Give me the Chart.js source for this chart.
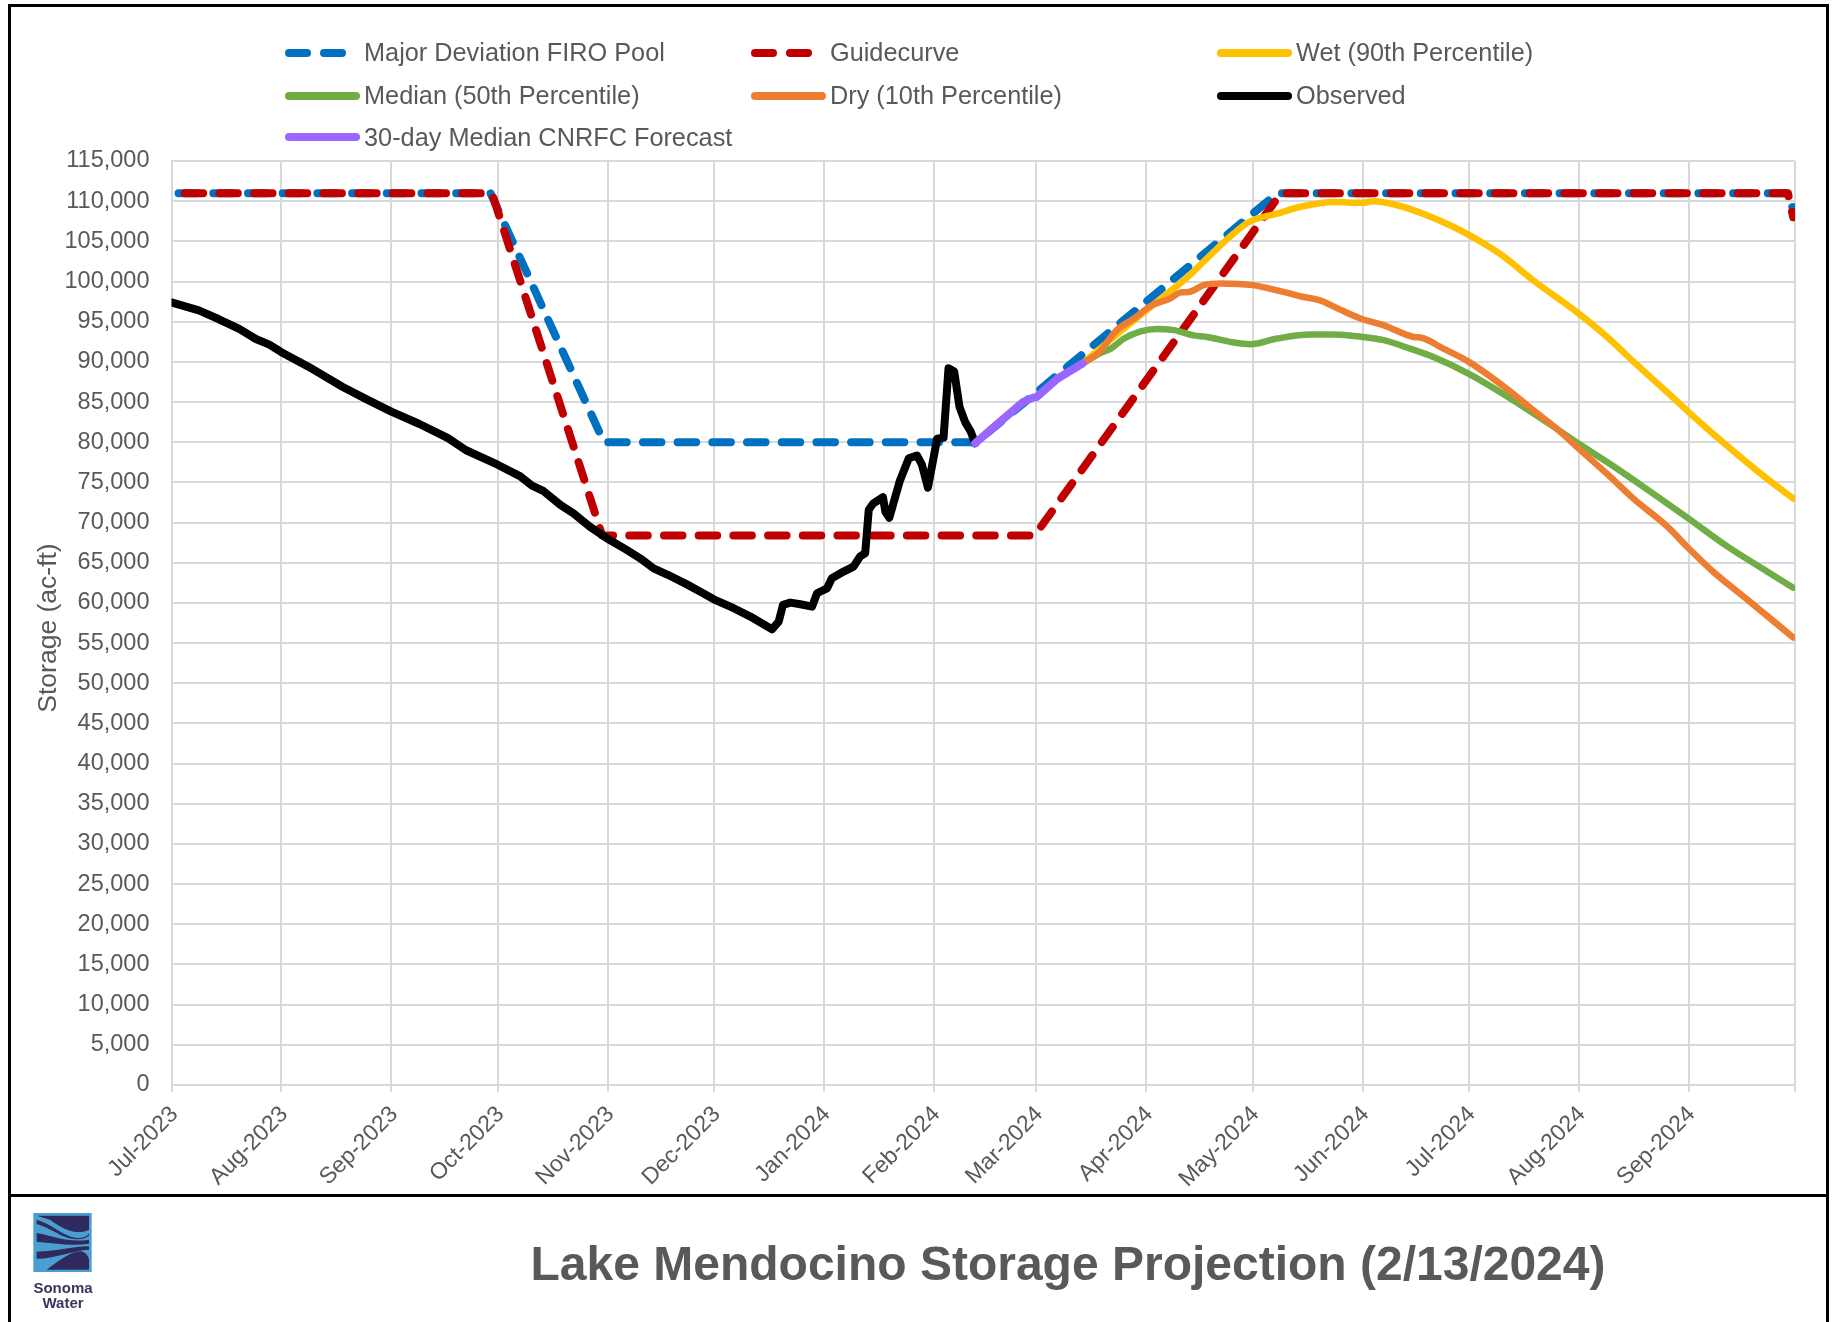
<!DOCTYPE html>
<html lang="en">
<head>
    <meta charset="UTF-8">
    <title>Lake Mendocino Storage Projection</title>
    <script src="https://cdn.jsdelivr.net/npm/chart.js"></script>
    <style>
        * {
            margin: 0;
            padding: 0;
            box-sizing: border-box;
        }

        html, body {
            width: 1835px;
            height: 1322px;
            overflow: hidden;
            background: #fff;
            font-family: "Liberation Sans", Arial, sans-serif;
        }

        .frame {
            position: absolute;
            left: 8px;
            top: 4px;
            width: 1821px;
            height: 1330px;
            border: 3px solid #000;
        }

        .divider {
            position: absolute;
            left: 8px;
            top: 1194px;
            width: 1821px;
            height: 3px;
            background: #000;
        }

        #chartWrap {
            position: absolute;
            left: 0;
            top: 0;
            width: 1835px;
            height: 1195px;
        }

        .y-title {
            position: absolute;
            left: 47px;
            top: 628px;
            transform: translate(-50%, -50%) rotate(-90deg);
            font-size: 26.5px;
            color: #595959;
            white-space: nowrap;
        }

        .legend-item {
            position: absolute;
            display: flex;
            align-items: center;
            height: 30px;
            font-size: 25.3px;
            color: #595959;
            white-space: nowrap;
        }

        .swatch {
            position: relative;
            width: 75px;
            height: 8px;
            margin-right: 4px;
        }

        .swatch span {
            position: absolute;
            top: 0;
            height: 100%;
            border-radius: 4px;
        }

        .title {
            position: absolute;
            left: 0;
            width: 2136px;
            top: 1236px;
            text-align: center;
            font-size: 48px;
            line-height: 56px;
            font-weight: bold;
            color: #595959;
        }

        .logo {
            position: absolute;
            left: 33px;
            top: 1213px;
            width: 59px;
            height: 59px;
        }

        .logo-text {
            position: absolute;
            left: 23px;
            width: 80px;
            top: 1280px;
            text-align: center;
            font-size: 15px;
            line-height: 15px;
            font-weight: bold;
            color: #3a3560;
        }
    </style>
</head>
<body>
    <div id="chartWrap"><canvas id="storageChart"></canvas></div>
    <div class="frame"></div>
    <div class="divider"></div>
    <div class="y-title">Storage (ac-ft)</div>
    <div id="legend"></div>

    <svg class="logo" viewBox="0 0 175 177">
        <rect width="175" height="177" fill="#4a9fd0"/>
        <g fill="#2f2a5e">
            <path d="M10 8H167V50C140 65 100 58 50 20Z"/>
            <path d="M10 20C50 30 90 70 130 75C150 75 160 70 167 62V68C150 82 120 82 90 70C60 55 35 40 10 33Z"/>
            <path d="M10 60C60 70 110 90 167 80V92C110 100 60 90 10 86Z"/>
            <path d="M10 116C60 116 120 100 167 100V110C120 112 60 138 10 137Z"/>
            <path d="M40 170C80 140 115 115 140 115C155 115 167 130 167 142V170Z"/>
        </g>
    </svg>
    <div class="logo-text">Sonoma<br>Water</div>
    <div class="title">Lake Mendocino Storage Projection (2/13/2024)</div>

    <script>
        // month ticks, counted in days from 1 Jul 2023
        const monthDays = [0, 31, 62, 92, 123, 153, 184, 215, 244, 275, 305, 336, 366, 397, 428, 458];
        const monthLabels = ['Jul-2023', 'Aug-2023', 'Sep-2023', 'Oct-2023', 'Nov-2023', 'Dec-2023', 'Jan-2024',
            'Feb-2024', 'Mar-2024', 'Apr-2024', 'May-2024', 'Jun-2024', 'Jul-2024', 'Aug-2024', 'Sep-2024', ''];

        const firoDays = [2, 90, 122, 227, 312, 456, 457.5];
        const firoValues = [111000, 111000, 80000, 80000, 111000, 111000, 108900];

        const guideDays = [3.7, 90.4, 121.5, 243.5, 313, 456, 457.5];
        const guideValues = [111000, 111000, 68400, 68400, 111000, 111000, 108000];

        const wetDays = [257, 262.6, 268, 275, 280.9, 286.5, 294, 299.7, 303.9, 311.9, 318.5, 327.9, 336, 339, 346.6,
            353, 360.7, 366, 374.9, 384.3, 397, 405, 412.5, 422, 428, 437, 450, 457.5];
        const wetValues = [89800, 91900, 93900, 96400, 98500, 100500, 103700, 106000, 107400, 108450, 109300, 109900, 109800, 110000, 109400,
            108450, 107000, 105800, 103400, 100100, 96000, 93100, 90000, 86200, 83750, 80250, 75500, 73000];

        const medianDays = [257, 262, 265, 268.7, 273.4, 278, 282.8, 288.4, 292.2, 299.7, 304.4, 311.9, 321.3, 327.9, 336,
            342, 349.4, 356, 366, 377.7, 391, 397, 407, 418, 428, 439, 450, 457.5];
        const medianValues = [89800, 91100, 91650, 92900, 93800, 94100, 93950, 93300, 93100, 92400, 92200, 92900, 93400, 93400, 93100,
            92700, 91650, 90600, 88500, 85450, 81600, 79800, 76950, 73600, 70500, 67000, 63950, 61900];

        const dryDays = [257, 261.7, 264, 266.8, 271.5, 276.2, 281.8, 284.7, 287, 291.2, 296, 305, 311.9, 319, 324, 329.7,
            335.4, 342, 350.4, 352.7, 358.8, 366, 376.7, 384.3, 391, 397, 405, 412.5, 422, 428, 435, 444.6, 457.5];
        const dryValues = [89800, 91200, 92500, 94000, 95400, 96950, 97900, 98650, 98700, 99550, 99750, 99550, 98900, 98100, 97650, 96500,
            95400, 94550, 93100, 93000, 91650, 90000, 86650, 83950, 81600, 79200, 76050, 72950, 69500, 66800, 63850, 60400, 55700];

        const observedDays = [0, 7.7, 13.4, 19.1, 23.8, 27.6, 31, 39.8, 48.2, 54.8, 62, 69.8, 78, 83.1, 92, 98.4, 101.7, 105, 109.7,
            113.4, 118, 122.8, 128.4, 132.2, 136, 140, 145, 149.2, 153, 158.6, 163.3, 169.4, 171.3, 172.5, 174.6, 177.4, 180.7,
            182.1, 184.9, 186.3, 189.6, 192.4, 194.3, 195.7, 196.7, 198, 200.7, 201.4, 202.5, 205.4, 208, 210.3, 211.7, 213.4,
            216, 217.8, 219.2, 220.8, 222.3, 223.9, 225.5, 226.7];
        const observedValues = [97400, 96400, 95300, 94100, 92850, 92150, 91200, 89100, 86900, 85400, 83800, 82300, 80500, 79000, 77200, 75750, 74600, 73900, 72200,
            71150, 69500, 68050, 66600, 65550, 64300, 63500, 62400, 61400, 60450, 59340, 58300, 56720, 57680, 59750, 60040, 59830, 59540,
            61200, 61800, 63070, 63900, 64520, 65800, 66200, 71600, 72400, 73150, 71350, 70600, 75100, 78000, 78350, 77200, 74350,
            80450, 80550, 89200, 88800, 84400, 82500, 81300, 79870];

        const forecastDays = [226.7, 233.7, 240.3, 243.1, 244, 249.9, 257];
        const forecastValues = [79870, 82530, 85020, 85560, 85600, 87900, 89800];

        const toPoints = (days, values) => days.map((d, i) => ({ x: d, y: values[i] }));

        const dashPattern = [18.5, 16.2];

        const seriesList = [
            { label: 'Major Deviation FIRO Pool', days: firoDays, values: firoValues, color: '#0070C0', width: 8, dash: dashPattern },
            { label: 'Guidecurve', days: guideDays, values: guideValues, color: '#C00000', width: 8, dash: dashPattern },
            { label: 'Wet (90th Percentile)', days: wetDays, values: wetValues, color: '#FFC000', width: 6.5, smooth: true },
            { label: 'Median (50th Percentile)', days: medianDays, values: medianValues, color: '#70AD47', width: 6.5, smooth: true },
            { label: 'Dry (10th Percentile)', days: dryDays, values: dryValues, color: '#ED7D31', width: 6.5, smooth: true },
            { label: 'Observed', days: observedDays, values: observedValues, color: '#000000', width: 8 },
            { label: '30-day Median CNRFC Forecast', days: forecastDays, values: forecastValues, color: '#9966FF', width: 8 }
        ];

        new Chart(document.getElementById('storageChart').getContext('2d'), {
            type: 'line',
            data: {
                datasets: seriesList.map((s, i) => ({
                    label: s.label,
                    data: toPoints(s.days, s.values),
                    borderColor: s.color,
                    backgroundColor: s.color,
                    borderWidth: s.width,
                    borderDash: s.dash || [],
                    borderCapStyle: 'round',
                    borderJoinStyle: 'round',
                    pointRadius: 0,
                    tension: 0,
                    cubicInterpolationMode: s.smooth ? 'monotone' : 'default',
                    fill: false,
                    order: seriesList.length - i // later series sit on top
                }))
            },
            options: {
                responsive: true,
                maintainAspectRatio: false,
                animation: false,
                layout: { padding: { left: 33, right: 40, top: 161, bottom: 0 } },
                plugins: { legend: { display: false }, tooltip: { enabled: false } },
                scales: {
                    x: {
                        type: 'linear',
                        min: 0,
                        max: 458,
                        afterBuildTicks: scale => { scale.ticks = monthDays.map(d => ({ value: d })); },
                        afterFit: scale => { scale.height = 110; },
                        grid: { color: '#D9D9D9', lineWidth: 2, tickLength: 7 },
                        border: { color: '#D9D9D9', width: 2 },
                        ticks: {
                            autoSkip: false,
                            minRotation: 45,
                            maxRotation: 45,
                            padding: 9,
                            labelOffset: 3,
                            color: '#595959',
                            font: { family: 'Liberation Sans', size: 23 },
                            callback: v => monthLabels[monthDays.indexOf(v)]
                        }
                    },
                    y: {
                        min: 0,
                        max: 115000,
                        afterFit: scale => { scale.width = 138.5; },
                        grid: { color: '#D9D9D9', lineWidth: 2, drawTicks: false },
                        border: { color: '#D9D9D9', width: 2 },
                        ticks: {
                            stepSize: 5000,
                            padding: 22,
                            color: '#595959',
                            font: { family: 'Liberation Sans', size: 23.5 },
                            callback: v => v.toLocaleString('en-US')
                        }
                    }
                }
            }
        });

        // legend sits in three columns, so it is laid out by hand
        const legendCols = [285, 751, 1217];
        const legendRows = [52.5, 95.5, 137];
        const legendSlots = [[0, 0], [1, 0], [2, 0], [0, 1], [1, 1], [2, 1], [0, 2]];
        const legendBox = document.getElementById('legend');
        seriesList.forEach((s, i) => {
            const [col, row] = legendSlots[i];
            const item = document.createElement('div');
            item.className = 'legend-item';
            item.style.left = legendCols[col] + 'px';
            item.style.top = (legendRows[row] - 15) + 'px';
            const swatch = document.createElement('div');
            swatch.className = 'swatch';
            const pieces = s.dash ? [[0, 26], [35, 26]] : [[0, 75]];
            pieces.forEach(p => {
                const bit = document.createElement('span');
                bit.style.left = p[0] + 'px';
                bit.style.width = p[1] + 'px';
                bit.style.background = s.color;
                swatch.appendChild(bit);
            });
            item.appendChild(swatch);
            item.appendChild(document.createTextNode(s.label));
            legendBox.appendChild(item);
        });
    </script>
</body>
</html>
